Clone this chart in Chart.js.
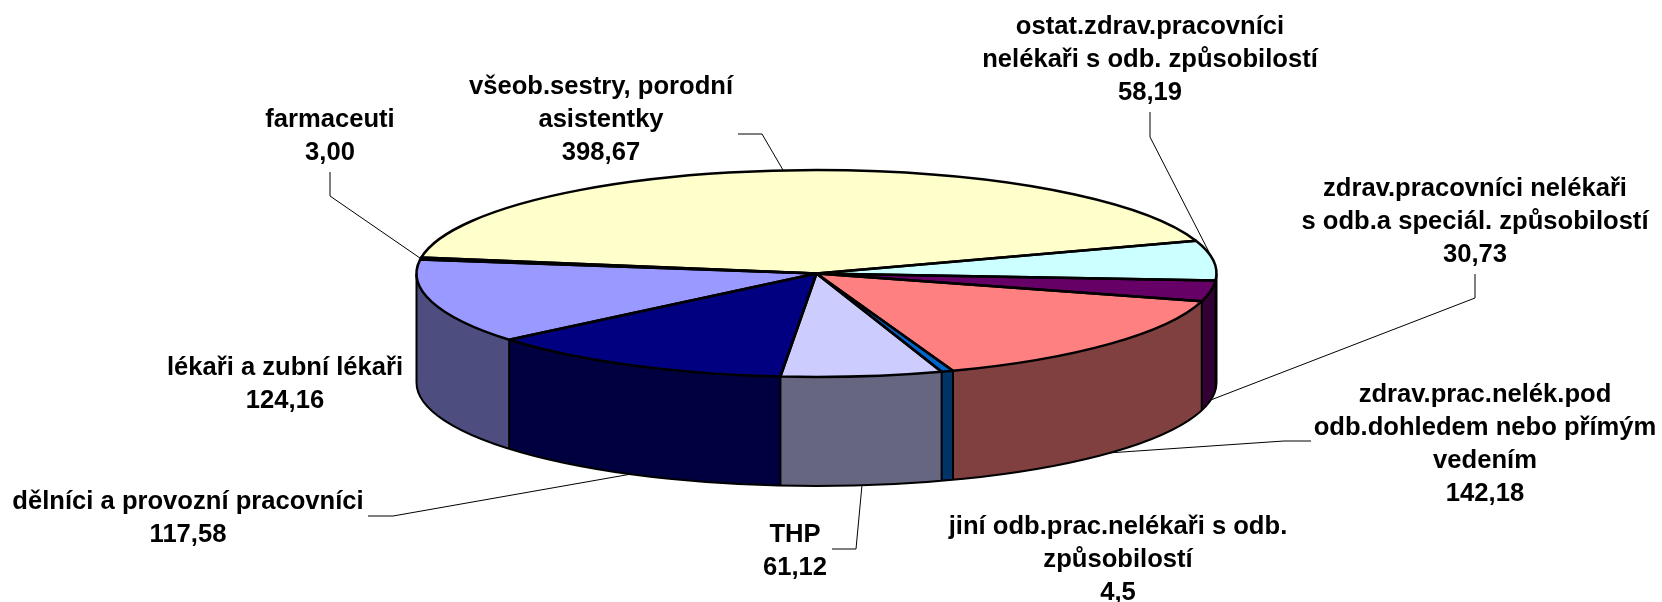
<!DOCTYPE html>
<html lang="cs">
<head>
<meta charset="utf-8">
<title>Pracovníci</title>
<script src="https://cdn.jsdelivr.net/npm/chart.js@4/dist/chart.umd.min.js"></script>
<style>
  html, body { margin: 0; padding: 0; background: #fff; }
  #wrap { width: 1662px; height: 602px; }
</style>
</head>
<body>
<div id="wrap"><canvas id="chart" width="1662" height="602"></canvas></div>
<script>
const categories = [
  ["lékaři a zubní lékaři"],
  ["farmaceuti"],
  ["všeob.sestry, porodní", "asistentky"],
  ["ostat.zdrav.pracovníci", "nelékaři s odb. způsobilostí"],
  ["zdrav.pracovníci nelékaři", "s odb.a speciál. způsobilostí"],
  ["zdrav.prac.nelék.pod", "odb.dohledem nebo přímým", "vedením"],
  ["jiní odb.prac.nelékaři s odb.", "způsobilostí"],
  ["THP"],
  ["dělníci a provozní pracovníci"],
];
const values = [124.16, 3.0, 398.67, 58.19, 30.73, 142.18, 4.5, 61.12, 117.58];
const valueLabels = ["124,16", "3,00", "398,67", "58,19", "30,73", "142,18", "4,5", "61,12", "117,58"];
const topColors = ["#9999FF", "#993366", "#FFFFCC", "#CCFFFF", "#660066", "#FF8080", "#0066CC", "#CCCCFF", "#000080"];
const sideColors = ["#4D4D80", "#4D1A33", "#808066", "#668080", "#330033", "#804040", "#003366", "#666680", "#000040"];

// where the pie sits on the page
const PIE = { x: 816.5, y: 273.5, rx: 400, ry: 103.5, depth: 109 };

// label block centre and first baseline, leader elbows run from the label to the rim
const labelLayout = [
  { x: 285, y: 367.5 },
  { x: 330, y: 119.5, leader: [[330, 172], [330, 196]] },
  { x: 601, y: 86.5, leader: [[738, 134], [762, 134]] },
  { x: 1150, y: 26.5, leader: [[1150, 112], [1150, 137]] },
  { x: 1475, y: 188.5, leader: [[1475, 274], [1475, 298]] },
  { x: 1485, y: 394.5, leader: [[1311, 441], [1284, 441]] },
  { x: 1118, y: 526.5 },
  { x: 795, y: 534.5, leader: [[832, 549], [856, 549]] },
  { x: 188, y: 501.5, leader: [[368, 516], [393, 516]] },
];

const LINE_H = 33;
const FONT = 'bold 25.6px "Liberation Sans", Arial, sans-serif';

function rimPoint(angle, dy) {
  return [PIE.x + PIE.rx * Math.cos(angle), PIE.y + PIE.ry * Math.sin(angle) + dy];
}

// the part of a slice's rim that faces the viewer (sin > 0)
function frontRange(arc) {
  for (const k of [-1, 0, 1, 2]) {
    const s = Math.max(arc.startAngle, 2 * Math.PI * k);
    const e = Math.min(arc.endAngle, Math.PI + 2 * Math.PI * k);
    if (e > s) return [s, e];
  }
  return null;
}

const pie3d = {
  id: "pie3d",
  beforeDatasetDraw(chart) {
    const { ctx } = chart;
    const arcs = chart.getDatasetMeta(0).data;

    // side wall
    arcs.forEach((arc, i) => {
      const range = frontRange(arc);
      if (!range) return;
      ctx.beginPath();
      ctx.ellipse(PIE.x, PIE.y, PIE.rx, PIE.ry, 0, range[0], range[1]);
      ctx.ellipse(PIE.x, PIE.y + PIE.depth, PIE.rx, PIE.ry, 0, range[1], range[0], true);
      ctx.closePath();
      ctx.fillStyle = sideColors[i];
      ctx.fill();
    });

    // squash the library's round pie into the top ellipse
    ctx.save();
    ctx.translate(PIE.x, PIE.y);
    ctx.scale(1, PIE.ry / PIE.rx);
    ctx.translate(-arcs[0].x, -arcs[0].y);
  },
  afterDatasetDraw(chart) {
    const { ctx } = chart;
    const arcs = chart.getDatasetMeta(0).data;
    ctx.restore();

    ctx.save();
    ctx.strokeStyle = "#000";
    ctx.lineWidth = 2;
    ctx.lineJoin = "round";

    // side wall outline
    ctx.beginPath();
    ctx.ellipse(PIE.x, PIE.y + PIE.depth, PIE.rx, PIE.ry, 0, 0, Math.PI);
    ctx.moveTo(PIE.x - PIE.rx, PIE.y);
    ctx.lineTo(PIE.x - PIE.rx, PIE.y + PIE.depth);
    ctx.moveTo(PIE.x + PIE.rx, PIE.y);
    ctx.lineTo(PIE.x + PIE.rx, PIE.y + PIE.depth);
    for (const arc of arcs) {
      const a = arc.startAngle;
      if (Math.sin(a) > 0) {
        const [x, y] = rimPoint(a, 0);
        ctx.moveTo(x, y);
        ctx.lineTo(x, y + PIE.depth);
      }
    }
    ctx.stroke();

    // slice outlines on the top face
    ctx.lineWidth = 2.5;
    for (const arc of arcs) {
      ctx.beginPath();
      ctx.moveTo(PIE.x, PIE.y);
      ctx.ellipse(PIE.x, PIE.y, PIE.rx, PIE.ry, 0, arc.startAngle, arc.endAngle);
      ctx.closePath();
      ctx.stroke();
    }
    ctx.restore();

    drawLabels(ctx, arcs);
  },
};

function drawLabels(ctx, arcs) {
  ctx.save();
  ctx.font = FONT;
  ctx.textAlign = "center";
  ctx.textBaseline = "middle";
  ctx.fillStyle = "#000";
  ctx.strokeStyle = "#000";
  ctx.lineWidth = 1;

  arcs.forEach((arc, i) => {
    const pos = labelLayout[i];
    const lines = [...categories[i], valueLabels[i]];
    lines.forEach((line, n) => ctx.fillText(line, pos.x, pos.y + n * LINE_H));

    if (pos.leader) {
      const mid = (arc.startAngle + arc.endAngle) / 2;
      const end = rimPoint(mid, Math.sin(mid) > 0 ? PIE.depth : 0);
      ctx.beginPath();
      pos.leader.forEach(([x, y], n) => (n ? ctx.lineTo(x, y) : ctx.moveTo(x, y)));
      ctx.lineTo(end[0], end[1]);
      ctx.stroke();
    }
  });
  ctx.restore();
}

new Chart(document.getElementById("chart"), {
  type: "pie",
  data: {
    labels: categories.map((c) => c.join(" ")),
    datasets: [{ data: values, backgroundColor: topColors, borderWidth: 0 }],
  },
  options: {
    responsive: false,
    animation: false,
    rotation: 230.2,
    radius: PIE.rx,
    layout: { padding: 0 },
    events: [],
    plugins: { legend: { display: false }, tooltip: { enabled: false } },
  },
  plugins: [pie3d],
});
</script>
</body>
</html>
